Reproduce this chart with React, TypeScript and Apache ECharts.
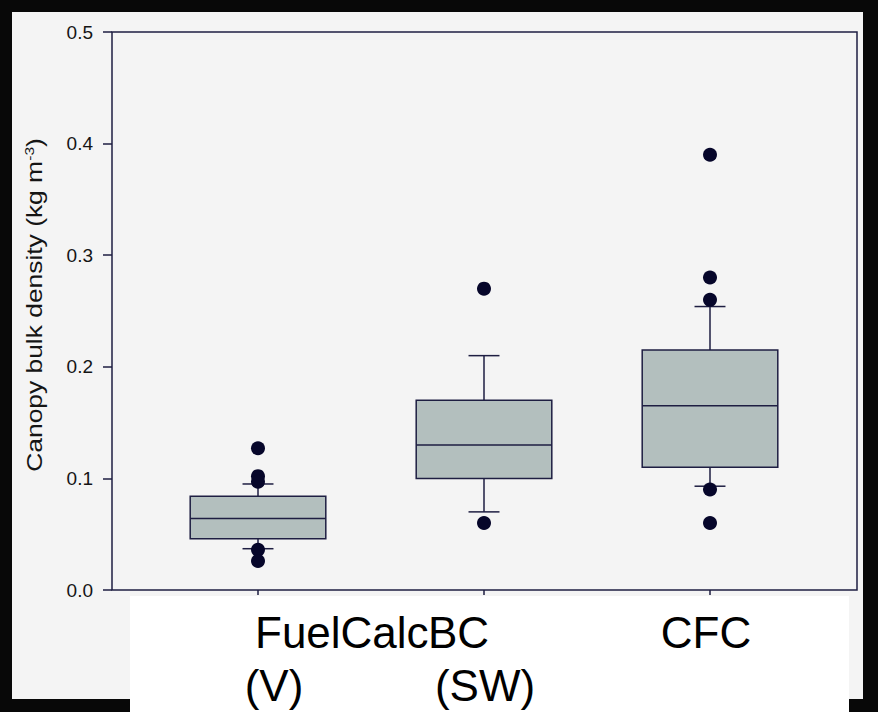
import React, { useEffect, useRef } from "react";
import * as echarts from "echarts";

const categories = ["FuelCalc (V)", "BC (SW)", "CFC"];
const labelLine1 = ["FuelCalc", "BC", "CFC"];
const labelLine2 = ["(V)", "(SW)", ""];
const whiskerLow = [0.037, 0.07, 0.093];
const q1 = [0.046, 0.1, 0.11];
const median = [0.064, 0.13, 0.165];
const q3 = [0.084, 0.17, 0.215];
const whiskerHigh = [0.095, 0.21, 0.254];
const outliers = [
  [0.127, 0.102, 0.097, 0.036, 0.026],
  [0.27, 0.06],
  [0.39, 0.28, 0.26, 0.09, 0.06],
];
const yTicks = [0, 0.1, 0.2, 0.3, 0.4, 0.5];
const yTitle = "Canopy bulk density (kg m";

const NAVY = "#1e1e42";
const FONT = "Liberation Sans, Arial, sans-serif";

export default function App() {
  const ref = useRef<HTMLDivElement>(null);
  useEffect(() => {
    if (!ref.current) return;
    const chart = echarts.init(ref.current, undefined, { renderer: "svg" });
    const boxData = categories.map((_, i) => [i, whiskerLow[i], q1[i], median[i], q3[i], whiskerHigh[i]]);
    const outData: number[][] = [];
    outliers.forEach((arr, i) => arr.forEach((v) => outData.push([i, v])));

    chart.setOption({
      animation: false,
      backgroundColor: "transparent",
      grid: [
        { left: 112, right: 21, top: 32, bottom: 122, show: true, borderColor: NAVY, borderWidth: 1.5, backgroundColor: "transparent" },
        { left: 145, right: 55, top: 32, bottom: 122 },
      ],
      xAxis: [
        { type: "value", gridIndex: 0, min: 0, max: 1, show: false },
        {
          type: "category",
          gridIndex: 1,
          data: categories,
          boundaryGap: true,
          axisLine: { show: false },
          axisTick: { show: true, alignWithLabel: true, length: 5, lineStyle: { color: NAVY, width: 1.5 } },
          axisLabel: { show: false },
          splitLine: { show: false },
        },
      ],
      yAxis: [
        {
          type: "value",
          gridIndex: 0,
          min: 0,
          max: 0.5,
          interval: 0.1,
          axisLine: { show: false },
          axisTick: { show: true, length: 9, lineStyle: { color: NAVY, width: 1.5 } },
          axisLabel: {
            margin: 19,
            fontSize: 19,
            color: "#151515",
            fontFamily: FONT,
            formatter: (v: number) => (yTicks.some((t) => Math.abs(t - v) < 1e-9) ? v.toFixed(1) : ""),
          },
          splitLine: { show: false },
        },
        { type: "value", gridIndex: 1, min: 0, max: 0.5, show: false },
      ],
      series: [
        {
          type: "custom",
          xAxisIndex: 1,
          yAxisIndex: 1,
          data: boxData,
          encode: { x: 0, y: [1, 2, 3, 4, 5] },
          z: 3,
          renderItem: (params: any, api: any) => {
            const x = api.value(0);
            const pLow = api.coord([x, api.value(1)]);
            const pQ1 = api.coord([x, api.value(2)]);
            const pMed = api.coord([x, api.value(3)]);
            const pQ3 = api.coord([x, api.value(4)]);
            const pHigh = api.coord([x, api.value(5)]);
            const band = api.size([1, 0])[0];
            const bw = band * 0.6;
            const cw = band * 0.137;
            const cx = pMed[0];
            const ls = { stroke: NAVY, lineWidth: 1.5 };
            return {
              type: "group",
              children: [
                { type: "line", shape: { x1: cx, y1: pLow[1], x2: cx, y2: pQ1[1] }, style: ls },
                { type: "line", shape: { x1: cx, y1: pQ3[1], x2: cx, y2: pHigh[1] }, style: ls },
                { type: "line", shape: { x1: cx - cw / 2, y1: pLow[1], x2: cx + cw / 2, y2: pLow[1] }, style: ls },
                { type: "line", shape: { x1: cx - cw / 2, y1: pHigh[1], x2: cx + cw / 2, y2: pHigh[1] }, style: ls },
                {
                  type: "rect",
                  shape: { x: cx - bw / 2, y: pQ3[1], width: bw, height: pQ1[1] - pQ3[1] },
                  style: { fill: "#b3bfbe", stroke: NAVY, lineWidth: 1.5 },
                },
                { type: "line", shape: { x1: cx - bw / 2, y1: pMed[1], x2: cx + bw / 2, y2: pMed[1] }, style: ls },
              ],
            };
          },
        },
        {
          type: "scatter",
          xAxisIndex: 1,
          yAxisIndex: 1,
          data: outData,
          symbol: "circle",
          symbolSize: 14,
          itemStyle: { color: "#06062a", opacity: 1 },
          z: 4,
        },
      ],
      graphic: [
        {
          type: "text",
          x: 34,
          y: 305,
          rotation: Math.PI / 2,
          scaleX: 1.2,
          style: {
            text: yTitle + "{sup|-3}" + ")",
            fontSize: 22,
            fontFamily: FONT,
            fill: "#151515",
            align: "center",
            verticalAlign: "middle",
            rich: { sup: { fontSize: 13, verticalAlign: "top", fill: "#151515", fontFamily: FONT } },
          },
        },
        { type: "text", x: 255, y: 632, style: { text: labelLine1[0], fontSize: 44, fontFamily: FONT, fill: "#000", align: "left", verticalAlign: "middle" } },
        { type: "text", x: 489, y: 632, style: { text: labelLine1[1], fontSize: 44, fontFamily: FONT, fill: "#000", align: "right", verticalAlign: "middle" } },
        { type: "text", x: 706, y: 632, style: { text: labelLine1[2], fontSize: 44, fontFamily: FONT, fill: "#000", align: "center", verticalAlign: "middle" } },
        { type: "text", x: 274, y: 685, style: { text: labelLine2[0], fontSize: 44, fontFamily: FONT, fill: "#000", align: "center", verticalAlign: "middle" } },
        { type: "text", x: 485, y: 685, style: { text: labelLine2[1], fontSize: 44, fontFamily: FONT, fill: "#000", align: "center", verticalAlign: "middle" } },
      ],
    });
    return () => chart.dispose();
  }, []);

  return (
    <div style={{ position: "fixed", left: 0, top: 0, width: 878, height: 712, background: "#080808", overflow: "hidden" }}>
      <div style={{ position: "absolute", left: 12, top: 12, width: 851, height: 687, background: "#f4f4f4" }} />
      <div style={{ position: "absolute", left: 130, top: 596, width: 719, height: 116, background: "#ffffff" }} />
      <div ref={ref} style={{ position: "absolute", left: 0, top: 0, width: 878, height: 712 }} />
    </div>
  );
}
